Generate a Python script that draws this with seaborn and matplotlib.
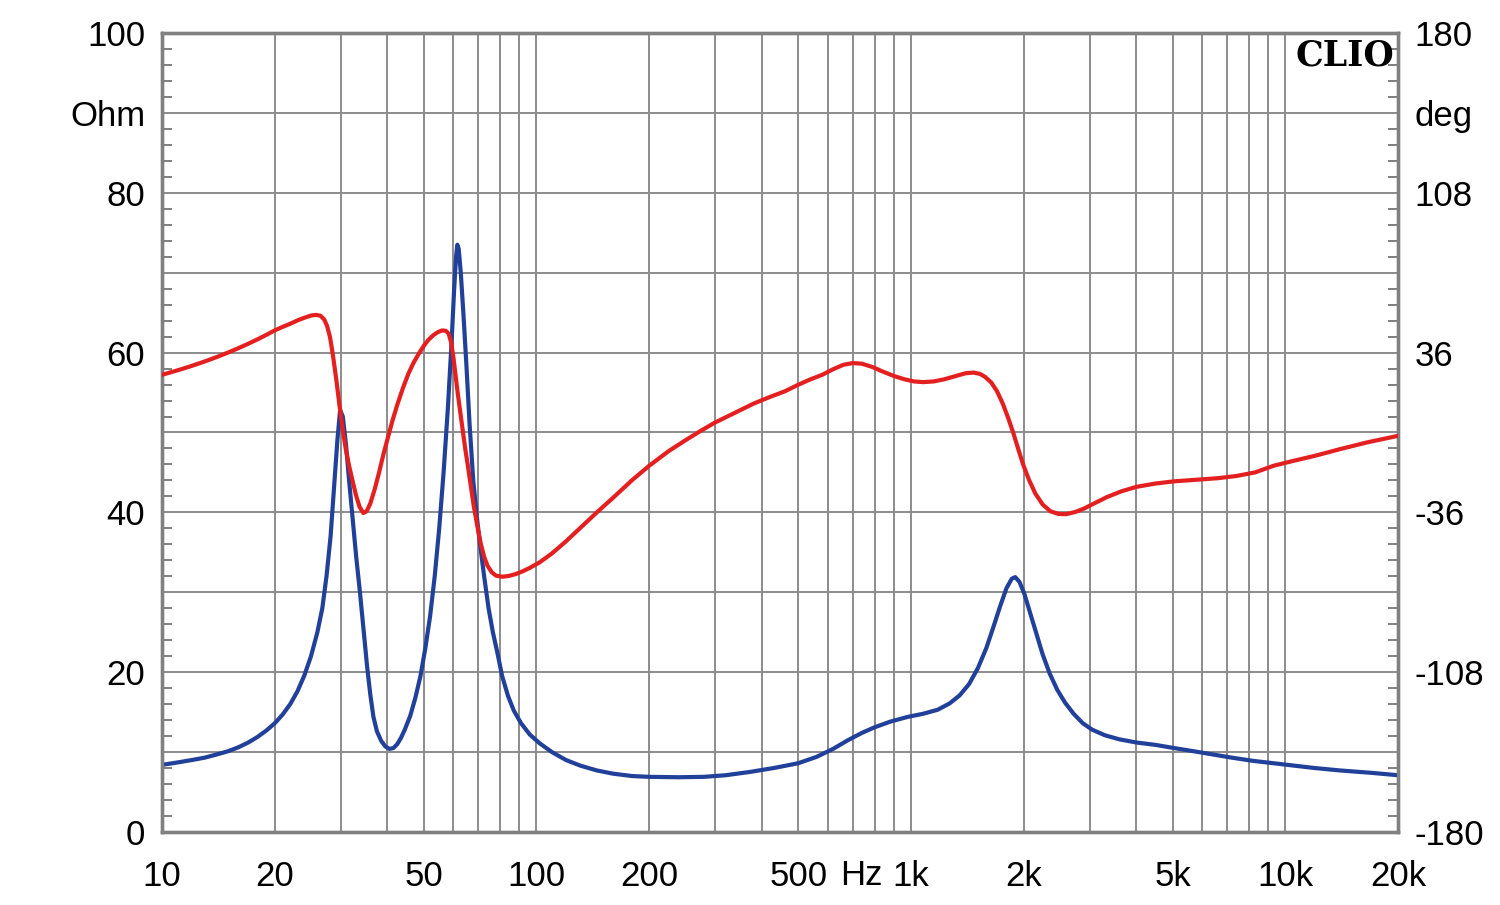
import numpy as np
import pandas as pd
import matplotlib
matplotlib.use("Agg")
import matplotlib.pyplot as plt
import seaborn as sns
from matplotlib.ticker import FixedLocator, NullFormatter

# ---- data ----
imp_freq = [10, 11, 12, 13, 14, 15, 16, 17, 18, 19, 20, 21, 22, 23, 24, 25, 26, 26.8,
            27.5, 28.2, 28.8, 29.4, 29.9, 30.4, 31.0, 31.6, 32.2, 33.0, 33.8, 34.6,
            35.3, 36.0, 36.7, 37.5, 38.5, 39.5, 40.5, 41.5, 42.5, 43.5, 44.5, 46, 47.5,
            49, 50.5, 52, 53.5, 55, 56.5, 58, 59.3, 60.3, 61.0, 61.5, 62.0, 62.8, 63.8,
            65, 66.3, 67.8, 69.3, 70.7, 72.5, 74.5, 76.5, 78.6, 81, 84, 87, 91, 96, 102,
            110, 120, 131, 145, 160, 180, 200, 240, 280, 320, 370, 430, 500, 560, 620,
            680, 740, 800, 880, 980, 1080, 1180, 1270, 1350, 1430, 1510, 1590, 1660,
            1730, 1800, 1860, 1900, 1950, 2010, 2080, 2160, 2250, 2350, 2460, 2580,
            2720, 2880, 3050, 3300, 3600, 4000, 4500, 5050, 5700, 6400, 7200, 8200,
            9300, 10500, 12000, 14000, 17000, 20000]
imp_ohm = [8.4, 8.7, 9.0, 9.3, 9.7, 10.1, 10.6, 11.2, 11.9, 12.7, 13.6, 14.7, 16.0,
           17.6, 19.6, 22.0, 25.0, 28.0, 32.0, 37.0, 43.0, 49.0, 52.8, 52.0, 48.5, 44.0,
           39.9, 34.5, 29.9, 25.0, 20.7, 17.2, 14.4, 12.6, 11.4, 10.7, 10.4, 10.5, 11.0,
           11.8, 12.8, 14.5, 16.8, 19.5, 23.0, 27.0, 32.0, 38.0, 45.0, 53.0, 61.0, 68.0,
           72.0, 73.5, 73.0, 70.0, 65.0, 58.5, 51.0, 44.0, 39.5, 36.0, 32.0, 28.0, 25.0,
           22.5, 19.5, 17.0, 15.2, 13.6, 12.2, 11.1, 10.0, 9.0, 8.3, 7.7, 7.3, 7.0, 6.9,
           6.85, 6.9, 7.1, 7.5, 8.0, 8.6, 9.4, 10.4, 11.5, 12.4, 13.1, 13.8, 14.4, 14.8,
           15.3, 16.1, 17.1, 18.5, 20.5, 23.0, 25.6, 28.2, 30.5, 31.7, 31.9, 31.3, 29.8,
           27.5, 25.0, 22.2, 19.8, 17.8, 16.2, 14.8, 13.6, 12.8, 12.1, 11.6, 11.2, 10.9,
           10.5, 10.1, 9.7, 9.3, 8.9, 8.6, 8.3, 8.0, 7.7, 7.4, 7.1]

ph_freq = [10, 11, 12, 13, 14, 15, 16, 17, 18, 19, 20, 21, 22, 23, 24, 25, 25.8, 26.5,
           27.1, 27.6, 28.1, 28.6, 29.2, 29.8, 30.4, 31.0, 31.6, 32.3, 33.0, 33.7, 34.5,
           35.2, 36.0, 37.0, 38.0, 39.0, 40.0, 41.2, 42.5, 44.0, 45.5, 47, 48.5, 50,
           51.5, 53, 54.5, 56, 57.3, 58.3, 59.2, 60, 60.8, 61.6, 62.5, 63.5, 64.5, 65.6,
           66.8, 68, 69.5, 71, 72.5, 74, 76, 78, 81, 84, 88, 92, 96, 102, 110, 120, 131,
           145, 160, 180, 200, 225, 250, 275, 300, 340, 380, 420, 460, 500, 540, 580,
           620, 660, 700, 740, 790, 840, 900, 960, 1020, 1080, 1150, 1230, 1320, 1400,
           1470, 1530, 1580, 1640, 1700, 1760, 1820, 1880, 1940, 2000, 2070, 2150, 2250,
           2360, 2480, 2600, 2750, 2900, 3100, 3350, 3650, 4000, 4500, 5050, 5800, 6600,
           7400, 8300, 9300, 10500, 12000, 14000, 16500, 20000]
ph_deg = [26, 28, 30, 32, 34, 36, 38, 40, 42, 44, 46, 47.6, 49, 50.5, 51.7, 52.7, 53,
          52.6, 51, 48, 43, 35, 24, 12, 1, -8, -15, -22, -28.5, -33.5, -36.3, -35.5, -32,
          -25.5, -18, -10, -3, 5, 12.5, 20, 26.5, 31.5, 35.5, 39, 41.8, 43.8, 45.2, 46,
          45.8, 44.5, 40.5, 34, 26, 18, 10, 1, -7, -15, -24, -33, -42, -50, -56, -60,
          -63, -64.5, -65, -64.7, -63.8, -62.5, -61, -58.5, -54.5, -49, -43, -36, -29.5,
          -21.5, -15, -8.5, -3.5, 0.8, 4.5, 9, 13, 16, 18.5, 21.5, 24, 26, 28.5, 30.5,
          31.3, 31, 29.5, 27.5, 25.5, 24, 23, 22.7, 23, 24, 25.5, 26.7, 27, 26.4, 25,
          22.5, 18.5, 13, 6.5, -0.5, -8, -15, -21.5, -27.5, -32.5, -35.5, -36.7, -36.8,
          -35.8, -34.3, -31.8, -29, -26.5, -24.5, -23, -22, -21.3, -20.6, -19.6, -18,
          -15, -12.8, -10.5, -7.5, -4.5, -1.5]

x_ticks = [10, 20, 50, 100, 200, 500, 1000, 2000, 5000, 10000, 20000]
x_labels = ["10", "20", "50", "100", "200", "500", "1k", "2k", "5k", "10k", "20k"]
left_ticks = [0, 10, 20, 30, 40, 50, 60, 70, 80, 90, 100]
left_labels = ["0", "", "20", "", "40", "", "60", "", "80", "Ohm", "100"]
right_ticks = [-180, -144, -108, -72, -36, 0, 36, 72, 108, 144, 180]
right_labels = ["-180", "", "-108", "", "-36", "", "36", "", "108", "deg", "180"]

imp_df = pd.DataFrame({"freq": imp_freq, "ohm": imp_ohm})
ph_df = pd.DataFrame({"freq": ph_freq, "deg": ph_deg})

sns.set_theme(style="white")
plt.rcParams["font.family"] = ["Liberation Sans", "DejaVu Sans"]

GRID = "#8c8c8c"
SPINE = "#808080"
BLUE = "#21409a"
RED = "#e3201f"
FS = 25

fig, ax = plt.subplots(figsize=(15, 9.05), dpi=100)
fig.subplots_adjust(left=0.108, right=0.932, top=0.9635, bottom=0.0807)
ax2 = ax.twinx()

sns.lineplot(data=imp_df, x="freq", y="ohm", ax=ax, color=BLUE, linewidth=3.0,
             sort=False, zorder=4)
sns.lineplot(data=ph_df, x="freq", y="deg", ax=ax2, color=RED, linewidth=3.0,
             sort=False, zorder=4)

ax.set_xscale("log")
ax.set_xlim(10, 20000)
ax.set_ylim(0, 100)
ax2.set_ylim(-180, 180)

# x grid at every 1..9 x decade
minor_x = [m * 10 ** d for d in range(1, 5) for m in range(1, 10) if 10 <= m * 10 ** d <= 20000]
ax.xaxis.set_major_locator(FixedLocator(x_ticks))
ax.set_xticklabels(x_labels)
ax.xaxis.set_minor_locator(FixedLocator(minor_x))
ax.xaxis.set_minor_formatter(NullFormatter())

ax.yaxis.set_major_locator(FixedLocator(left_ticks))
ax.set_yticklabels(left_labels)
ax.yaxis.set_minor_locator(FixedLocator(list(range(0, 101, 2))))
ax2.yaxis.set_major_locator(FixedLocator(right_ticks))
ax2.set_yticklabels(right_labels)
ax2.yaxis.set_minor_locator(FixedLocator([-180 + 7.2 * k for k in range(51)]))

ax.grid(True, which="major", axis="both", color=GRID, linewidth=1.4, zorder=1)
ax.grid(True, which="minor", axis="x", color=GRID, linewidth=1.4, zorder=1)
ax2.grid(False)

ax.tick_params(axis="x", which="both", length=0, pad=20, labelsize=FS, colors="black")
ax.tick_params(axis="y", which="major", length=0, pad=12, labelsize=FS, colors="black")
ax.tick_params(axis="y", which="minor", direction="in", length=7, width=1.4,
               color=SPINE, left=True)
ax2.tick_params(axis="y", which="major", length=0, pad=12, labelsize=FS, colors="black")
ax2.tick_params(axis="y", which="minor", direction="in", length=7, width=1.4,
                color=SPINE, right=True)

for a in (ax, ax2):
    for s in a.spines.values():
        s.set_visible(True)
        s.set_color(SPINE)
        s.set_linewidth(2.4)
    a.set_xlabel("")
    a.set_ylabel("")

ax2.patch.set_visible(False)

# "Hz" unit text between 500 and 1k, aligned with the tick labels
ax.text(0.5655, -0.0551, "Hz", transform=ax.transAxes, ha="center", va="center",
        fontsize=FS, color="black")

ax2.text(0.997, 0.993, "CLIO", transform=ax.transAxes, ha="right", va="top",
         fontsize=25, fontweight="bold", family="DejaVu Serif", color="black", zorder=6)

fig.savefig("out.png", dpi=100, facecolor="white")
